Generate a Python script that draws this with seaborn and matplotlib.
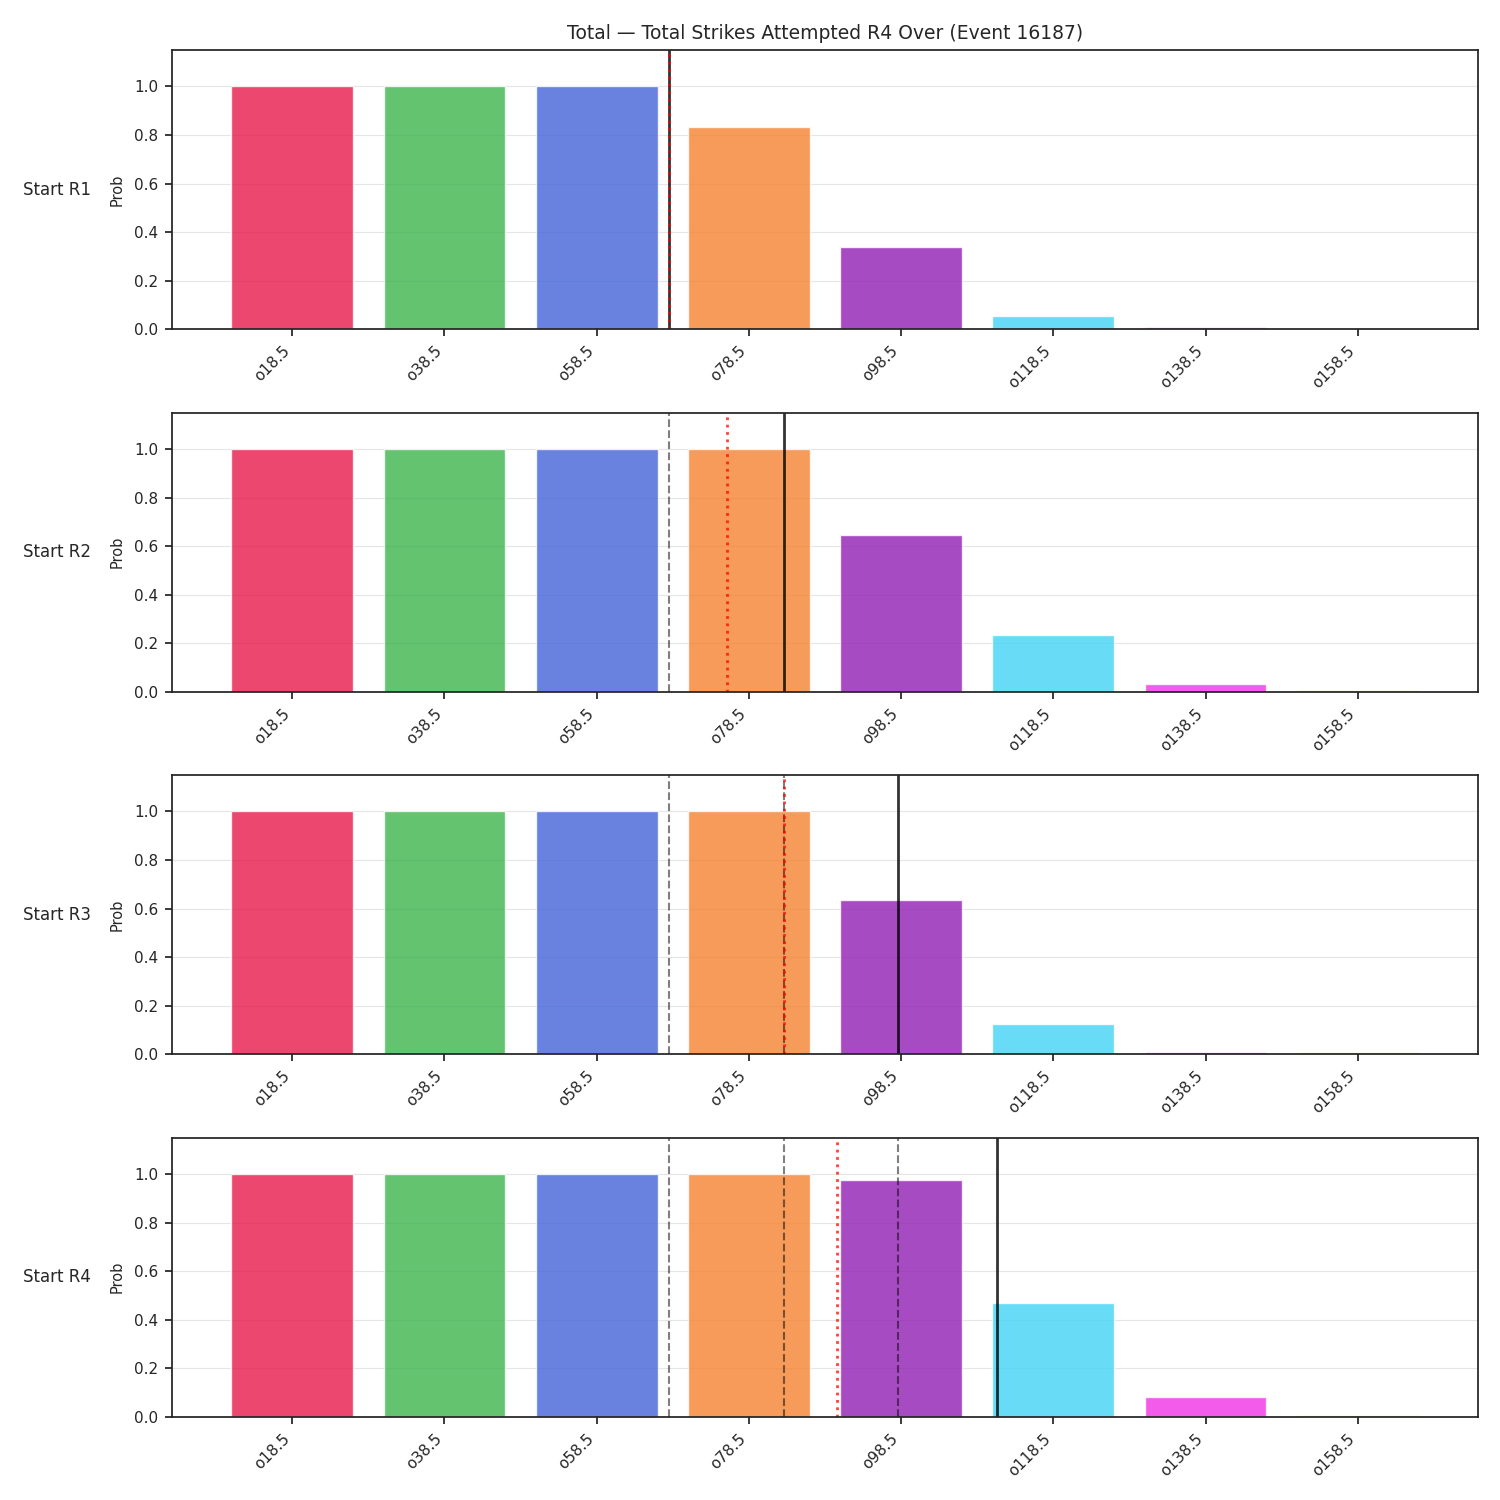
import matplotlib
matplotlib.use("Agg")
import matplotlib.pyplot as plt
import seaborn as sns
import pandas as pd
import numpy as np

categories = ["o18.5", "o38.5", "o58.5", "o78.5", "o98.5", "o118.5", "o138.5", "o158.5"]
row_labels = ["Start R1", "Start R2", "Start R3", "Start R4"]
probs_r1 = [1.0, 1.0, 1.0, 0.834, 0.339, 0.057, 0.010, 0.001]
probs_r2 = [1.0, 1.0, 1.0, 1.0, 0.646, 0.236, 0.033, 0.009]
probs_r3 = [1.0, 1.0, 1.0, 1.0, 0.635, 0.126, 0.010, 0.009]
probs_r4 = [1.0, 1.0, 1.0, 1.0, 0.975, 0.469, 0.083, 0.008]
all_probs = [probs_r1, probs_r2, probs_r3, probs_r4]
# values (strikes) for lines
actual_vals = [68.0, 83.1, 98.1, 111.1]       # black solid
projected_vals = [68.0, 75.6, 83.1, 90.1]     # red dotted
palette = ["#e6194b", "#3cb44b", "#4363d8", "#f58231", "#911eb4", "#42d4f4", "#f032e6", "#bfef45"]
title = "Total \u2014 Total Strikes Attempted R4 Over (Event 16187)"

sns.set_style("ticks")
plt.rcParams['font.family'] = ['DejaVu Sans']

fig, axes = plt.subplots(4, 1, figsize=(15, 15), dpi=100)
fig.subplots_adjust(left=172/1500, right=1478/1500, top=1-50/1500, bottom=1-1417/1500, hspace=0.297)

def to_pos(v):
    return (v - 18.5) / 20.0

for i, ax in enumerate(axes):
    df = pd.DataFrame({"cat": categories, "p": all_probs[i]})
    sns.barplot(data=df, x="cat", y="p", hue="cat", palette=palette, alpha=0.8,
                saturation=1, legend=False, ax=ax, width=0.8, order=categories,
                hue_order=categories)
    ax.set_xlim(-0.79, 7.79)
    ax.set_ylim(0, 1.15)
    ax.set_yticks([0, 0.2, 0.4, 0.6, 0.8, 1.0])
    ax.yaxis.grid(True, color="#e5e5e5", linewidth=0.8)
    ax.set_axisbelow(True)
    ax.set_xlabel("")
    ax.set_ylabel("Prob", fontsize=10.5, labelpad=7)
    ax.tick_params(axis="both", labelsize=11, length=5, width=1.25, pad=5, color="#222222")
    for s in ax.spines.values():
        s.set_visible(True)
        s.set_color("#222222")
        s.set_linewidth(1.25)
    plt.setp(ax.get_xticklabels(), rotation=45, ha="right")
    # previous rounds' actuals
    for j in range(i):
        ax.axvline(to_pos(actual_vals[j]), color="black", alpha=0.5, linestyle="--", linewidth=1.5)
    ax.axvline(to_pos(actual_vals[i]), color="black", alpha=0.8, linestyle="-", linewidth=2)
    ax.axvline(to_pos(projected_vals[i]), color="red", alpha=0.75, linestyle=":", linewidth=2)
    pos = ax.get_position()
    fig.text(23/1500, (pos.y0 + pos.y1) / 2, row_labels[i], ha="left", va="center", fontsize=12)

axes[0].set_title(title, fontsize=13.5, pad=8)
fig.savefig("out.png", dpi=100)
